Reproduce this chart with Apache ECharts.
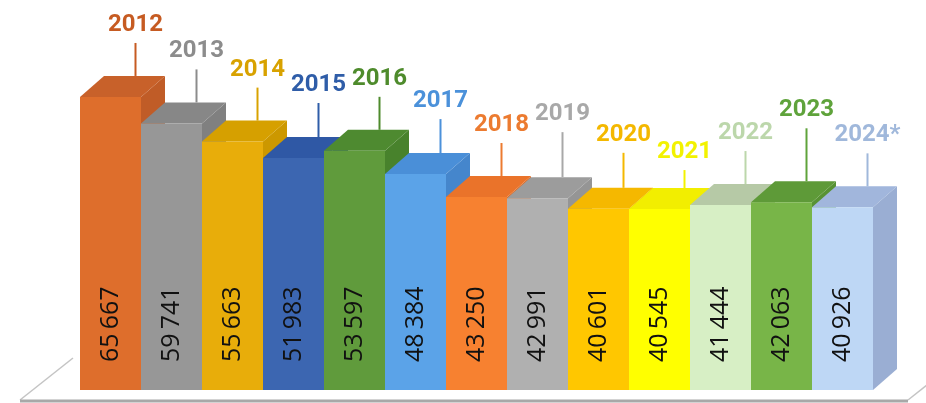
<!DOCTYPE html>
<html>
<head>
<meta charset="utf-8">
<script src="https://cdn.jsdelivr.net/npm/echarts@6/dist/echarts.min.js"></script>
<style>
html, body { margin: 0; background: #fff; }
#main { width: 926px; height: 403px; }
</style>
</head>
<body>
<div id="main"></div>
<script>
// data
const years = ["2012", "2013", "2014", "2015", "2016", "2017", "2018", "2019", "2020", "2021", "2022", "2023", "2024*"];
const values = [65667, 59741, 55663, 51983, 53597, 48384, 43250, 42991, 40601, 40545, 41444, 42063, 40926];

// colours per bar: front face, top face, side face, year label
const frontColors = ["#DE6E2C", "#979797", "#E8AD0A", "#3C66B1", "#609B3C", "#5BA3E8", "#F78130", "#B0B0B0", "#FFC700", "#FFFF00", "#D7EFC5", "#78B548", "#BED7F5"];
const topColors = ["#C8612A", "#878787", "#D6A000", "#2F58A5", "#4E8A30", "#4A8FD8", "#EA732A", "#9C9C9C", "#F5B800", "#F2EE00", "#B6C9A6", "#5E9A38", "#A1B6DC"];
const sideColors = ["#C05C27", "#808080", "#CC9800", "#2B519A", "#48822C", "#4586CC", "#DE6C26", "#959595", "#EBAE00", "#E6E200", "#ADC09E", "#589234", "#9AAED3"];
const labelColors = ["#C65B22", "#8C8C8C", "#D8A200", "#2F5DA8", "#4E8B2C", "#4B91DA", "#EC7B30", "#A8A8A8", "#F4B800", "#F2F200", "#BCD7AB", "#5FA33B", "#A0B8DB"];
// length of the leader line above each bar (layout only)
const leaderLen = [33, 33, 33, 34, 33, 34, 33, 45, 35, 18, 33, 53, 33];

const DX = 24, DY = 21; // depth of the 3d bars

function fmt(v) {
    return String(v).replace(/\B(?=(\d{3})+(?!\d))/g, "\u2009");
}

function renderBar(params, api) {
    const i = params.dataIndex;
    const base = api.coord([i, 0]);
    const top = api.coord([i, api.value(1)]);
    const w = api.size([1, 0])[0];
    const x0 = base[0] - w / 2, x1 = base[0] + w / 2;
    const y0 = top[1], yb = base[1];
    const lx = base[0] + DX + 1;
    return {
        type: "group",
        children: [
            { type: "polygon", shape: { points: [[x1, y0], [x1 + DX, y0 - DY], [x1 + DX, yb - DY], [x1, yb]] }, style: { fill: sideColors[i] } },
            { type: "polygon", shape: { points: [[x0, y0], [x0 + DX, y0 - DY], [x1 + DX, y0 - DY], [x1, y0]] }, style: { fill: topColors[i] } },
            { type: "rect", shape: { x: x0, y: y0, width: w, height: yb - y0 }, style: { fill: frontColors[i] } },
            { type: "line", shape: { x1: lx, y1: y0 - DY, x2: lx, y2: y0 - DY - leaderLen[i] }, style: { stroke: labelColors[i], lineWidth: 2 } },
            {
                type: "text", x: lx, y: y0 - DY - leaderLen[i] - 18,
                style: { text: years[i], fill: labelColors[i], font: "bold 24px Roboto", align: "center", verticalAlign: "middle" }
            },
            {
                type: "text", x: base[0], y: yb - 28, rotation: Math.PI / 2,
                style: { text: fmt(values[i]), fill: "#111", font: "25px 'Open Sans'", align: "left", verticalAlign: "middle" }
            }
        ]
    };
}

function renderFloor(params, api) {
    const first = api.coord([0, 0]);
    const last = api.coord([years.length - 1, 0]);
    const w = api.size([1, 0])[0];
    const left = first[0] - w / 2 - 60, right = last[0] + w / 2 + 35;
    const y = first[1] + 10;
    return {
        type: "group",
        children: [
            { type: "polygon", shape: { points: [[left, y], [right, y], [right + 53, y - 42], [left + 53, y - 42]] }, style: { fill: "#fff" } },
            { type: "line", shape: { x1: left, y1: y, x2: left + 53, y2: y - 42 }, style: { stroke: "#c4c4c4", lineWidth: 1.5 } },
            { type: "line", shape: { x1: right, y1: y, x2: right + 53, y2: y - 42 }, style: { stroke: "#c4c4c4", lineWidth: 1.5 } },
            { type: "line", shape: { x1: left, y1: y + 1, x2: right, y2: y + 1 }, style: { stroke: "#a8a8a8", lineWidth: 3 } }
        ]
    };
}

const chart = echarts.init(document.getElementById("main"));
chart.setOption({
    animation: false,
    backgroundColor: "#fff",
    grid: { left: 80, right: 53, top: 33, bottom: 13 },
    xAxis: { type: "category", data: years, show: false },
    yAxis: { type: "value", min: 0, max: 80000, show: false },
    series: [
        { type: "custom", renderItem: renderFloor, data: [[0, 0]], silent: true, z: 1 },
        { type: "custom", renderItem: renderBar, data: values.map((v, i) => [i, v]), encode: { x: 0, y: 1 }, z: 2 }
    ]
});
</script>
</body>
</html>
